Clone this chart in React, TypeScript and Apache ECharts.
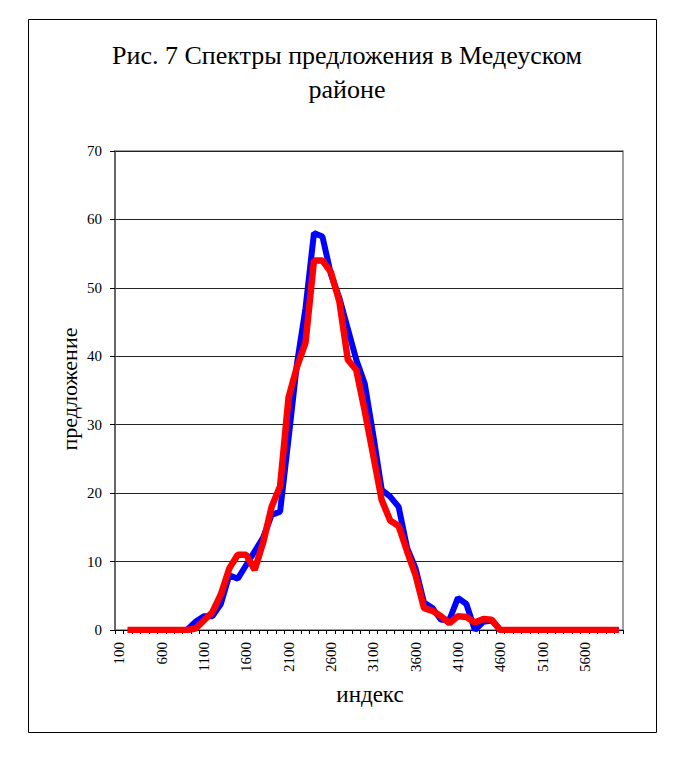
import React, { useEffect, useRef } from "react";
import * as echarts from "echarts";

const categories = [
  "100", "200", "300", "400", "500", "600", "700", "800", "900", "1000",
  "1100", "1200", "1300", "1400", "1500", "1600", "1700", "1800", "1900", "2000",
  "2100", "2200", "2300", "2400", "2500", "2600", "2700", "2800", "2900", "3000",
  "3100", "3200", "3300", "3400", "3500", "3600", "3700", "3800", "3900", "4000",
  "4100", "4200", "4300", "4400", "4500", "4600", "4700", "4800", "4900", "5000",
  "5100", "5200", "5300", "5400", "5500", "5600", "5700", "5800", "5900", "6000",
];

const blueSeries = [
  null, 0, 0, 0, 0, 0, 0, 0, 0, 1.2,
  2, 2, 3.8, 8, 7.5, 9.5, 11.5, 13.5, 16.8, 17.3,
  28, 39, 47, 58, 57.5, 52, 48.5, 44, 39.5, 36,
  28.5, 20.5, 19.5, 18, 12, 9, 4, 3.2, 1.5, 1.5,
  4.7, 3.8, 0, 1.2, 1.4, 0, 0, 0, 0, 0,
  0, 0, 0, 0, 0, 0, 0, 0, 0, 0,
];

const redSeries = [
  null, 0, 0, 0, 0, 0, 0, 0, 0, 0.2,
  1.4, 2.6, 5.2, 9, 11, 11, 8.8, 12.8, 18, 21,
  34, 38.5, 42, 54, 54, 52.3, 48, 39.5, 38, 32,
  25.5, 19, 16, 15.2, 11.5, 8, 3.2, 2.8, 2, 1,
  2, 1.9, 1.1, 1.6, 1.5, 0, 0, 0, 0, 0,
  0, 0, 0, 0, 0, 0, 0, 0, 0, 0,
];

const titleLine1 = "Рис. 7 Спектры предложения в Медеуском";
const titleLine2 = "районе";
const yName = "предложение";
const xName = "индекс";

const FONT = "Liberation Serif";

export default function App() {
  const ref = useRef<HTMLDivElement>(null);

  useEffect(() => {
    if (!ref.current) return;
    const chart = echarts.init(ref.current, null, { renderer: "svg" });
    chart.setOption({
      animation: false,
      backgroundColor: "#ffffff",
      textStyle: { fontFamily: FONT },
      grid: {
        left: 115,
        right: 72,
        top: 151,
        bottom: 131,
        show: true,
        borderColor: "#808080",
        borderWidth: 1.5,
      },
      xAxis: {
        type: "category",
        data: categories,
        boundaryGap: true,
        axisLine: { show: true, lineStyle: { color: "#000", width: 1 } },
        axisTick: {
          show: true,
          interval: 0,
          length: 4,
          inside: false,
          lineStyle: { color: "#000" },
        },
        axisLabel: {
          interval: 4,
          rotate: 90,
          margin: 12,
          fontFamily: FONT,
          fontSize: 15,
          color: "#000",
        },
        splitLine: { show: false },
      },
      yAxis: {
        type: "value",
        min: 0,
        max: 70,
        interval: 10,
        axisLine: { show: true, lineStyle: { color: "#555", width: 1.5 } },
        axisTick: { show: true, length: 5, lineStyle: { color: "#000" } },
        axisLabel: {
          margin: 13,
          fontFamily: FONT,
          fontSize: 15,
          color: "#000",
        },
        splitLine: { show: true, lineStyle: { color: "#222", width: 1 } },
      },
      series: [
        {
          type: "line",
          data: blueSeries,
          showSymbol: false,
          symbol: "none",
          lineStyle: { color: "#0000ff", width: 6 },
          itemStyle: { color: "#0000ff" },
          z: 2,
        },
        {
          type: "line",
          data: redSeries,
          showSymbol: false,
          symbol: "none",
          lineStyle: { color: "#ff0000", width: 6.5 },
          itemStyle: { color: "#ff0000" },
          z: 3,
        },
      ],
      graphic: [
        {
          type: "rect",
          shape: { x: 28.5, y: 19.5, width: 628, height: 713 },
          style: { fill: "none", stroke: "#000", lineWidth: 1 },
          silent: true,
        },
        {
          type: "text",
          x: 347,
          y: 55,
          style: {
            text: titleLine1,
            fontFamily: FONT,
            fontSize: 26,
            fill: "#000",
            align: "center",
            verticalAlign: "middle",
          },
        },
        {
          type: "text",
          x: 347,
          y: 89,
          style: {
            text: titleLine2,
            fontFamily: FONT,
            fontSize: 26,
            fill: "#000",
            align: "center",
            verticalAlign: "middle",
          },
        },
        {
          type: "text",
          x: 69,
          y: 389,
          rotation: Math.PI / 2,
          style: {
            text: yName,
            fontFamily: FONT,
            fontSize: 22,
            fill: "#000",
            align: "center",
            verticalAlign: "middle",
          },
        },
        {
          type: "text",
          x: 370,
          y: 694,
          style: {
            text: xName,
            fontFamily: FONT,
            fontSize: 23,
            fill: "#000",
            align: "center",
            verticalAlign: "middle",
          },
        },
      ],
    });
    return () => chart.dispose();
  }, []);

  return (
    <div
      ref={ref}
      style={{ position: "absolute", left: 0, top: 0, width: 695, height: 761 }}
    />
  );
}
